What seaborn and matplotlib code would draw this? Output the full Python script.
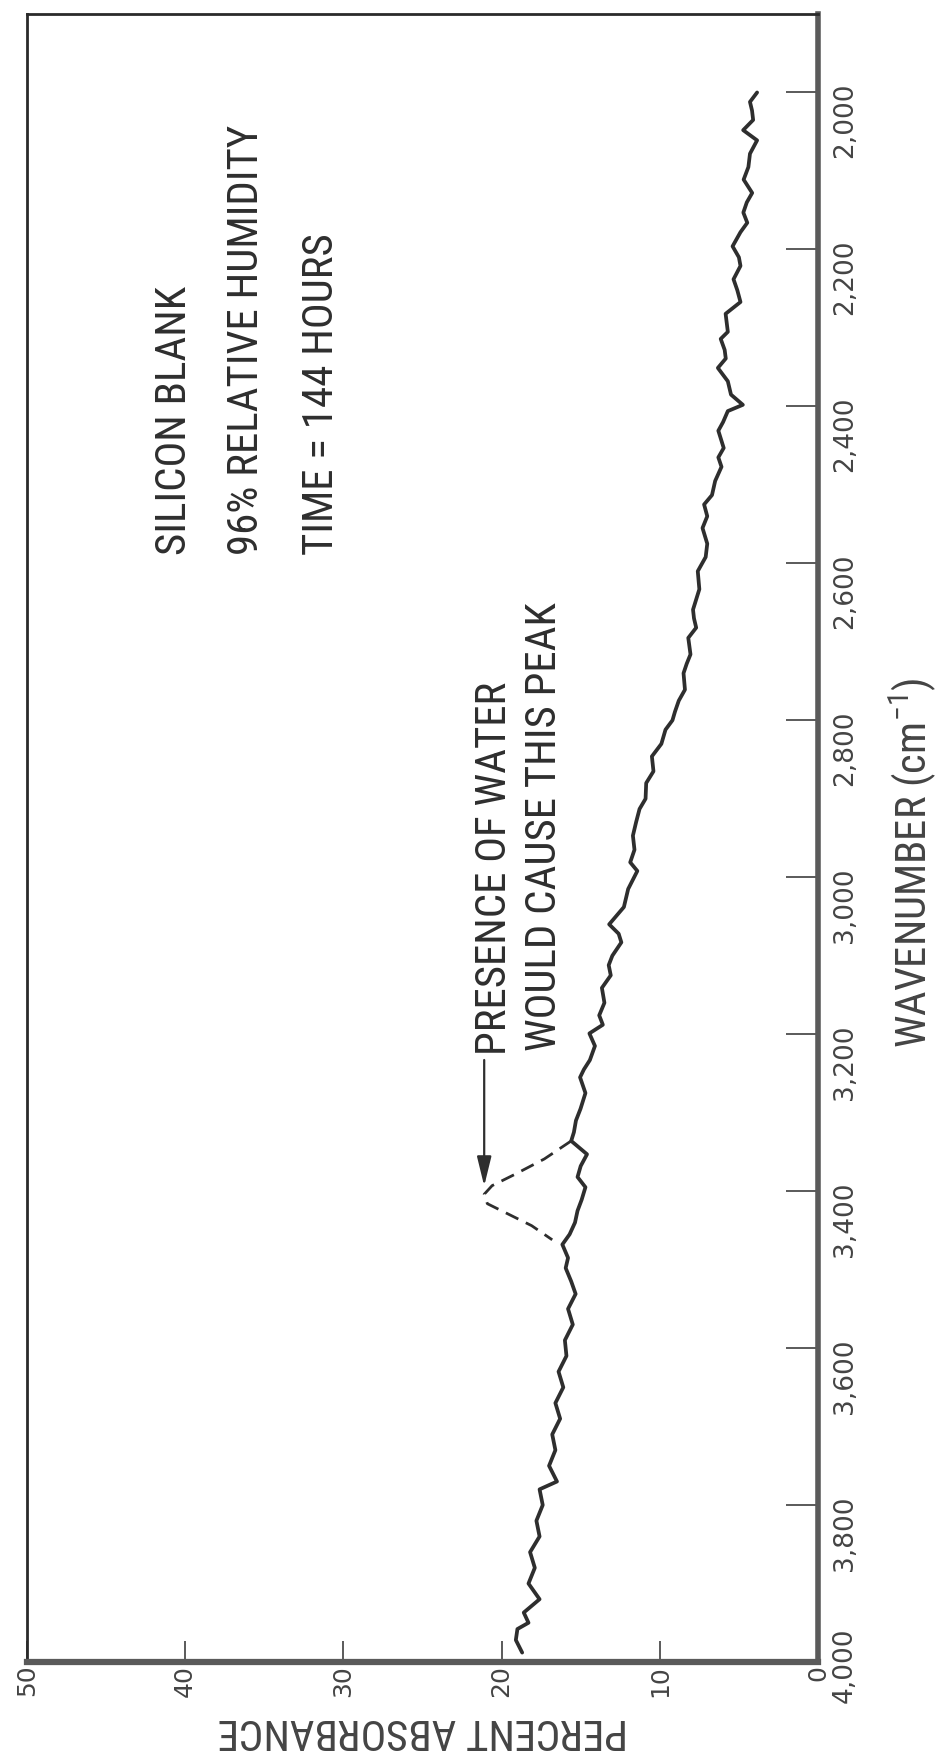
import matplotlib
matplotlib.use("Agg")
import matplotlib.pyplot as plt
import matplotlib.font_manager as fm
import matplotlib.transforms as mtransforms
import seaborn as sns
import pandas as pd

# ---------------- data ----------------
wavenumber = [2000, 2012, 2023, 2035, 2048, 2061, 2078, 2095, 2111, 2128, 2140, 2153,
              2166, 2178, 2196, 2210, 2221, 2238, 2252, 2267, 2282, 2305, 2314, 2328,
              2339, 2351, 2368, 2385, 2398, 2406, 2420, 2431, 2453, 2465, 2477, 2495,
              2513, 2525, 2540, 2555, 2575, 2592, 2610, 2633, 2659, 2670, 2682, 2695,
              2716, 2728, 2740, 2761, 2775, 2789, 2800, 2812, 2830, 2846, 2865, 2880,
              2900, 2913, 2930, 2947, 2965, 2981, 2992, 3015, 3038, 3060, 3072, 3083,
              3100, 3112, 3125, 3141, 3160, 3176, 3188, 3199, 3215, 3233, 3245, 3255,
              3275, 3295, 3310, 3325, 3336, 3353, 3368, 3382, 3395, 3411, 3425, 3440,
              3455, 3468, 3485, 3498, 3515, 3531, 3550, 3570, 3590, 3610, 3630, 3650,
              3670, 3690, 3710, 3730, 3750, 3770, 3780, 3800, 3820, 3840, 3860, 3880,
              3900, 3920, 3937, 3950, 3958, 3972, 3988]
absorbance = [3.85, 4.3, 4.17, 4.1, 4.73, 3.85, 4.3, 4.4, 4.7, 4.16, 4.5, 4.72,
              4.47, 4.9, 5.4, 5.0, 4.9, 5.34, 5.1, 4.9, 5.84, 5.7, 6.15, 5.9,
              5.83, 6.33, 5.7, 5.5, 4.75, 5.7, 6.0, 6.3, 5.96, 6.3, 6.1, 6.5,
              6.7, 7.2, 7.0, 7.3, 7.0, 7.1, 7.6, 7.5, 7.9, 7.84, 7.7, 8.2,
              8.06, 8.3, 8.5, 8.41, 8.8, 9.04, 9.2, 9.64, 9.9, 10.5, 10.4, 10.86,
              10.9, 11.28, 11.5, 11.7, 11.6, 11.87, 11.42, 12.0, 12.27, 13.2, 12.6, 12.43,
              13.0, 13.23, 13.1, 13.66, 13.5, 13.83, 13.6, 14.45, 14.1, 14.42, 14.8, 15.04,
              14.7, 15.01, 15.3, 15.43, 15.6, 14.6, 15.0, 15.2, 14.7, 14.94, 15.2, 15.36,
              15.7, 16.16, 15.8, 15.95, 15.6, 15.32, 15.8, 15.5, 16.0, 15.9, 16.4, 16.1,
              16.6, 16.3, 16.8, 16.6, 17.0, 16.5, 17.6, 17.4, 17.8, 17.6, 18.2, 17.9,
              18.3, 17.6, 18.6, 18.3, 19.0, 19.1, 18.7]

# hypothetical water peak (dashed)
peak_wavenumber = [3336, 3359, 3379, 3393, 3404, 3416, 3427, 3444, 3462]
peak_absorbance = [15.6, 17.3, 19.2, 20.6, 21.1, 20.9, 19.8, 18.1, 16.8]

wn_ticks = [2000, 2200, 2400, 2600, 2800, 3000, 3200, 3400, 3600, 3800, 4000]
wn_labels = ["2,000", "2,200", "2,400", "2,600", "2,800", "3,000", "3,200",
             "3,400", "3,600", "3,800", "4,000"]
abs_ticks = [50, 40, 30, 20, 10, 0]
abs_labels = ["50", "40", "30", "20", "10", "0"]

info_lines = ["SILICON BLANK", "96% RELATIVE HUMIDITY", "TIME = 144 HOURS"]
note_lines = ["PRESENCE OF WATER", "WOULD CAUSE THIS PEAK"]

# ---------------- style ----------------
sns.set_theme(style="white")
avail = {f.name for f in fm.fontManager.ttflist}
cond = next((f for f in ["Liberation Sans Narrow", "Roboto Condensed",
                         "Open Sans Condensed", "DejaVu Sans"] if f in avail),
            "DejaVu Sans")
plt.rcParams["font.family"] = ["DejaVu Sans"]
plt.rcParams["mathtext.default"] = "regular"
ink = "#2e2e2e"
frame = "#5a5a5a"

W, H = 943, 1752
fig = plt.figure(figsize=(W / 100, H / 100), dpi=100)
fig.patch.set_facecolor("white")
L, R, T, B = 27, 818, 14, 1662
ax = fig.add_axes([L / W, 1 - B / H, (R - L) / W, (B - T) / H])
ax.set_facecolor("white")

df = pd.DataFrame({"absorbance": absorbance, "wavenumber": wavenumber})
dfp = pd.DataFrame({"absorbance": peak_absorbance, "wavenumber": peak_wavenumber})
sns.lineplot(data=df, x="absorbance", y="wavenumber", sort=False, estimator=None,
             orient="y", color=ink, lw=2.7, ax=ax)
sns.lineplot(data=dfp, x="absorbance", y="wavenumber", sort=False, estimator=None,
             orient="y", color=ink, lw=2.0, ax=ax, linestyle=(0, (5, 3)))

ax.set_xlim(50, 0)
ax.set_ylim(4000, 1900)

ax.set_xticks(abs_ticks)
ax.set_xticklabels(abs_labels)
ax.set_yticks(wn_ticks)
ax.set_yticklabels(wn_labels)
ax.yaxis.tick_right()
ax.tick_params(axis="x", direction="in", length=15, width=1.1, color=ink,
               pad=2, labelrotation=90, labelsize=18, labelcolor="#444444",
               bottom=True, top=False)
ax.tick_params(axis="y", direction="in", length=23, width=1.1, color=ink,
               pad=10, labelrotation=90, labelsize=19, labelcolor="#444444",
               right=True, left=False, labelright=True, labelleft=False)

# nudge the corner label "4,000" upward, away from the "0"
last = ax.yaxis.get_major_ticks()[-1].label2
last.set_transform(last.get_transform() +
                   mtransforms.ScaledTranslation(0, 0.25, fig.dpi_scale_trans))

for side, lw, col in [("left", 2.0, "#2a2a2a"), ("top", 2.0, "#2a2a2a"),
                      ("right", 4.0, frame), ("bottom", 4.5, frame)]:
    ax.spines[side].set_visible(True)
    ax.spines[side].set_linewidth(lw)
    ax.spines[side].set_color(col)

stretch = "condensed" if cond == "DejaVu Sans" else "normal"
xl = ax.set_xlabel("PERCENT ABSORBANCE", rotation=180, family=[cond, "DejaVu Sans"],
                   fontstretch=stretch, fontsize=30, color="#444444")
ax.xaxis.set_label_coords(0.5, -0.029)
ax.yaxis.set_label_position("right")
yl = ax.set_ylabel(r"WAVENUMBER (cm$^{-1}$)", rotation=90, family=[cond, "DejaVu Sans"],
                   fontstretch=stretch, fontsize=30, color="#444444",
                   ha="center", va="center", rotation_mode="anchor")
ax.yaxis.set_label_coords((913 - L) / (R - L), (B - 863) / (B - T))

def a_of(x):
    return 50 * (R - x) / (R - L)

def w_of(y):
    return 1900 + (y - T) * 2100 / (B - T)

info_x = [174, 246, 321]
info_texts = []
for line, px in zip(info_lines, info_x):
    info_texts.append(ax.text(a_of(px), w_of(555), line, rotation=90, ha="center",
                              va="bottom", family=[cond, "DejaVu Sans"],
                              fontstretch=stretch, fontsize=30, color=ink))
note_x = [494, 545]
note_bottom = [1055, 1051]
note_texts = []
for line, px, py in zip(note_lines, note_x, note_bottom):
    note_texts.append(ax.text(a_of(px), w_of(py), line, rotation=90, ha="center",
                              va="bottom", family=[cond, "DejaVu Sans"],
                              fontstretch=stretch, fontsize=30, color=ink))

ax.annotate("", xy=(peak_absorbance[4], w_of(1186)), xytext=(peak_absorbance[4], w_of(1060)),
            arrowprops=dict(arrowstyle="-|>,head_length=0.9,head_width=0.22",
                            color=ink, lw=1.6, shrinkA=0, shrinkB=0, mutation_scale=20))

# fit condensed text lengths to the reference
fig.canvas.draw()
r = fig.canvas.get_renderer()
ref = info_texts[1]
ext = ref.get_window_extent(r).height
size = ref.get_fontsize() * 430 / ext
for t in info_texts + note_texts:
    t.set_fontsize(size)
ext = xl.get_window_extent(r).width
xl.set_fontsize(xl.get_fontsize() * 410 / ext)
ext = yl.get_window_extent(r).height
yl.set_fontsize(yl.get_fontsize() * 370 / ext)

fig.savefig("out.png", dpi=100, facecolor="white")
